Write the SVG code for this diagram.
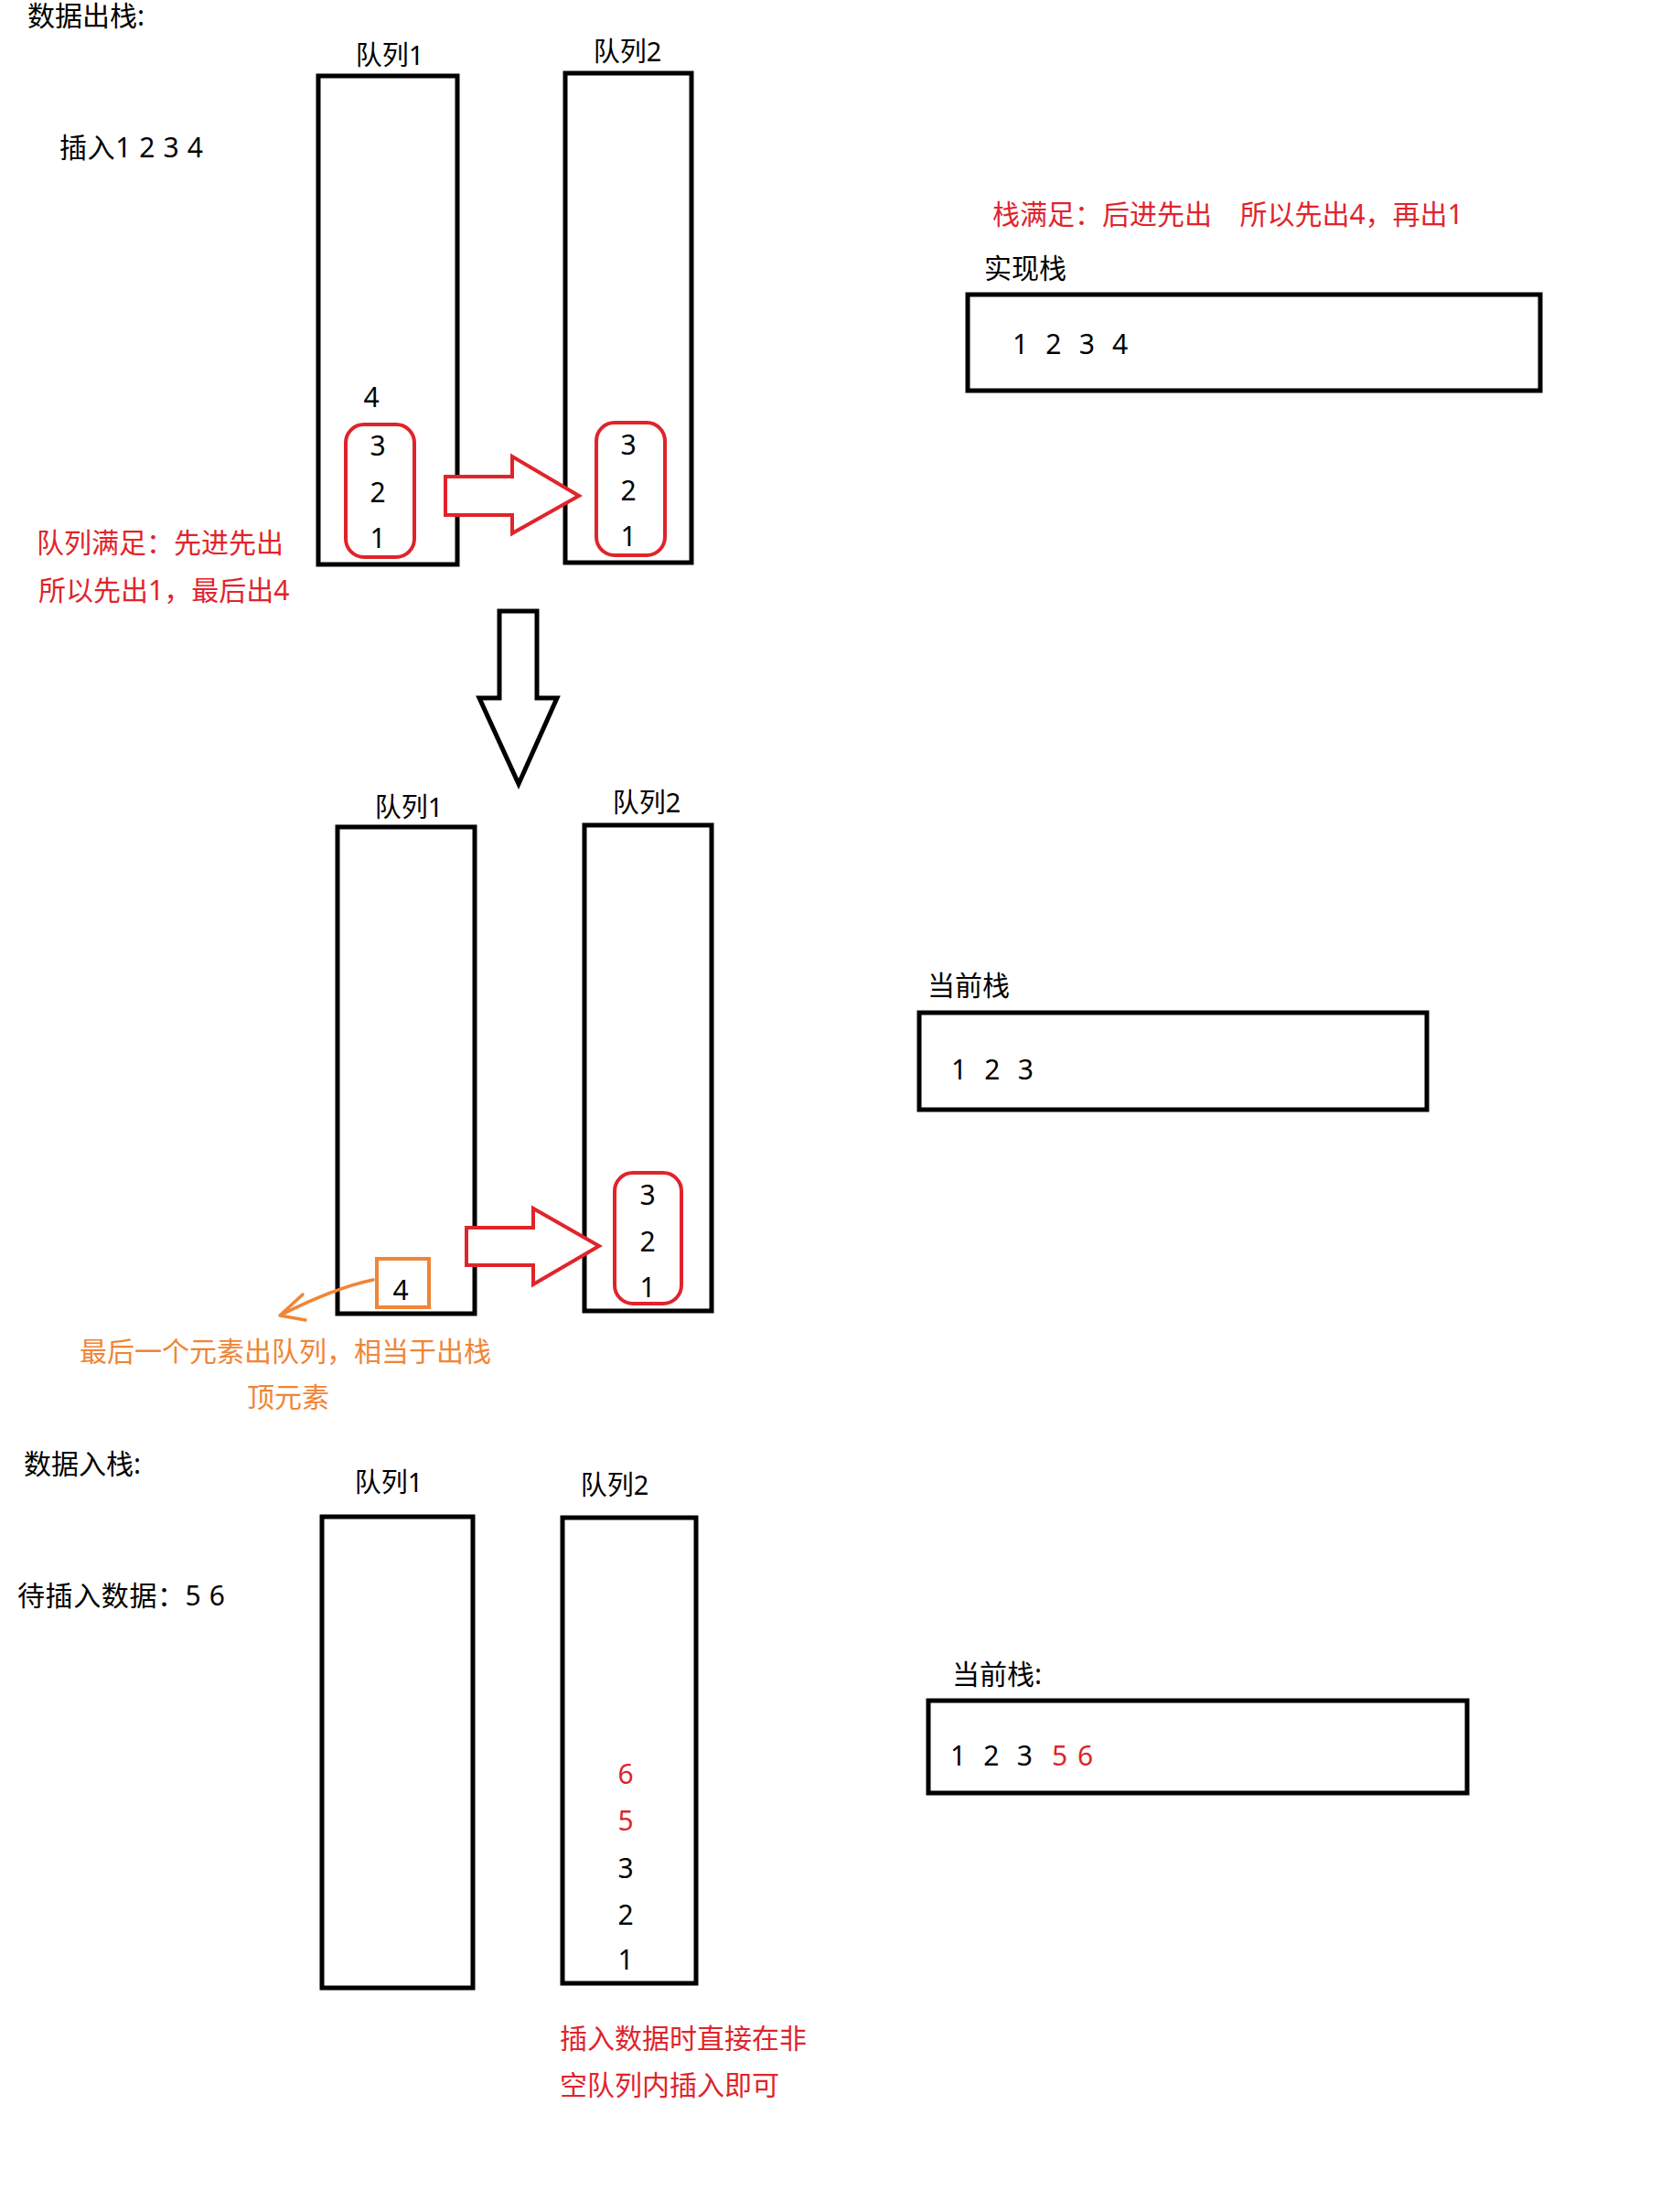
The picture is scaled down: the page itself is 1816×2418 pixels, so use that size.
<svg xmlns="http://www.w3.org/2000/svg" width="1816" height="2418" viewBox="0 0 1816 2418">
<style>
text{font-family:"Noto Sans","Noto Sans CJK SC",sans-serif;font-size:30px;fill:#000}
.lbl{font-size:29px;text-anchor:middle}
.num{text-anchor:middle}
.red{fill:#E0242B}
.org{fill:#F08536}
.q{fill:none;stroke:#000;stroke-width:5}
.rr{fill:none;stroke:#E0242B;stroke-width:4}
.ra{fill:#fff;stroke:#E0242B;stroke-width:4;stroke-linejoin:miter}
.ba{fill:#fff;stroke:#000;stroke-width:5}
.sp{letter-spacing:5.7px}
</style>
<rect width="1816" height="2418" fill="#fff"/>

<!-- Section 1: 数据出栈 -->
<g id="title1"><text x="30" y="28">数据出栈:</text></g>
<g id="s1-q1">
<text class="lbl" x="426" y="71">队列1</text>
<rect class="q" x="348" y="83" width="152" height="534"/>
<text class="num" x="406" y="445">4</text>
</g>
<g id="s1-q2">
<text class="lbl" x="686" y="67">队列2</text>
<rect class="q" x="618" y="80" width="138" height="535"/>
</g>
<g id="s1-insert"><text x="65" y="172" style="letter-spacing:0.6px">插入1 2 3 4</text></g>
<g id="s1-group1">
<rect class="rr" x="378" y="464" width="75" height="145" rx="20"/>
<text class="num" x="413" y="498">3</text>
<text class="num" x="413" y="549">2</text>
<text class="num" x="413" y="599">1</text>
</g>
<g id="s1-group2">
<rect class="rr" x="652" y="462" width="75" height="145" rx="20"/>
<text class="num" x="687" y="497">3</text>
<text class="num" x="687" y="547">2</text>
<text class="num" x="687" y="597">1</text>
</g>
<g id="s1-note">
<text class="red" x="40" y="604">队列满足：先进先出</text>
<text class="red" x="42" y="656">所以先出1，最后出4</text>
</g>
<g id="s1-stack">
<text class="red" x="1085" y="245" xml:space="preserve">栈满足：后进先出   <tspan dx="7">所以先出4，再出1</tspan></text>
<text x="1076" y="304">实现栈</text>
<rect class="q" x="1058" y="322" width="626" height="105"/>
<text class="sp" x="1107" y="387">1 2 3 4</text>
</g>

<!-- Section 2 -->
<g id="s2-q1">
<text class="lbl" x="447" y="893">队列1</text>
<rect class="q" x="369" y="904" width="150" height="532"/>
</g>
<g id="s2-q2">
<text class="lbl" x="707" y="888">队列2</text>
<rect class="q" x="639" y="902" width="139" height="531"/>
</g>
<g id="s2-last">
<rect x="412" y="1376" width="57" height="53" fill="none" stroke="#F08536" stroke-width="4"/>
<text class="num" x="438" y="1421">4</text>
</g>
<g id="s2-group">
<rect class="rr" x="672" y="1282" width="73" height="143" rx="20"/>
<text class="num" x="708" y="1317">3</text>
<text class="num" x="708" y="1368">2</text>
<text class="num" x="708" y="1418">1</text>
</g>
<g id="s2-note">
<text class="org" x="87" y="1488">最后一个元素出队列，相当于出栈</text>
<text class="org" x="270" y="1538">顶元素</text>
</g>
<g id="s2-stack">
<text x="1014" y="1088">当前栈</text>
<rect class="q" x="1005" y="1107" width="555" height="106"/>
<text class="sp" x="1040" y="1180">1 2 3</text>
</g>

<!-- Section 3 -->
<g id="title3"><text x="26" y="1611">数据入栈:</text></g>
<g id="s3-wait"><text x="19" y="1755" style="letter-spacing:0.6px">待插入数据：5 6</text></g>
<g id="s3-q1">
<text class="lbl" x="425" y="1631">队列1</text>
<rect class="q" x="352" y="1658" width="165" height="515"/>
</g>
<g id="s3-q2">
<text class="lbl" x="672" y="1634">队列2</text>
<rect class="q" x="615" y="1659" width="146" height="509"/>
<text class="num red" x="684" y="1950">6</text>
<text class="num red" x="684" y="2001">5</text>
<text class="num" x="684" y="2053">3</text>
<text class="num" x="684" y="2104">2</text>
<text class="num" x="684" y="2153">1</text>
</g>
<g id="s3-note">
<text class="red" x="612" y="2239">插入数据时直接在非</text>
<text class="red" x="612" y="2290">空队列内插入即可</text>
</g>
<g id="s3-stack">
<text x="1041" y="1841">当前栈:</text>
<rect class="q" x="1015" y="1859" width="589" height="101"/>
<text class="sp" x="1039" y="1930">1 2 3 <tspan class="red" dx="2" style="letter-spacing:1.5px">5 6</tspan></text>
</g>

<!-- Connectors -->
<g id="connectors">
<polygon class="ra" points="487,521 560,521 560,499 633,542 560,583 560,563 487,563"/>
<polygon class="ba" points="546,668 587,668 587,763 609,763 567,857 524,763 546,763"/>
<polygon class="ra" points="510,1342 583,1342 583,1321 655,1362 583,1404 583,1383 510,1383"/>
<path d="M408,1399 Q365,1408 306,1438 M331,1415 L306,1438 L334,1443" fill="none" stroke="#F08536" stroke-width="3.5" stroke-linecap="round" stroke-linejoin="round"/>
</g>
</svg>
